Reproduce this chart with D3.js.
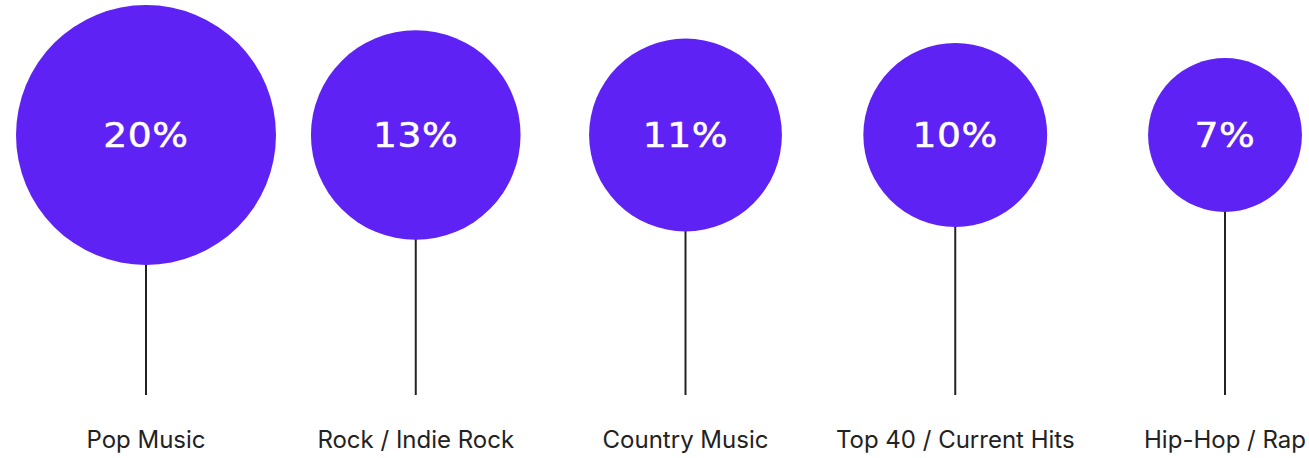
<!DOCTYPE html>
<html>
<head>
<meta charset="utf-8">
<script src="https://cdn.jsdelivr.net/npm/d3@7"></script>
<style>
  html, body { margin: 0; padding: 0; background: #ffffff; }
  svg { display: block; }
</style>
</head>
<body>
<svg id="chart" width="1309" height="458"></svg>
<script>
// Music genre preference shares
const genres = ["Pop Music", "Rock / Indie Rock", "Country Music", "Top 40 / Current Hits", "Hip-Hop / Rap"];
const shares = [20, 13, 11, 10, 7];
const shareLabels = ["20%", "13%", "11%", "10%", "7%"];

const data = genres.map((g, i) => ({ genre: g, share: shares[i], label: shareLabels[i] }));

const svg = d3.select("#chart");

const centerY = 135;
const stemBottom = 395;
const labelBaseline = 448;

const x = d3.scalePoint().domain(genres).range([146, 1225]);
const r = d3.scaleSqrt().domain([0, 20]).range([0, 130]);

const g = svg.selectAll("g.bubble")
  .data(data)
  .join("g")
  .attr("class", "bubble")
  .attr("transform", d => `translate(${x(d.genre)},0)`);

// stems from the bottom of each bubble down to the label
g.append("line")
  .attr("x1", 0).attr("x2", 0)
  .attr("y1", d => centerY + r(d.share) - 1)
  .attr("y2", stemBottom)
  .attr("stroke", "#222222")
  .attr("stroke-width", 2);

g.append("circle")
  .attr("cx", 0)
  .attr("cy", centerY)
  .attr("r", d => r(d.share))
  .attr("fill", "#5e22f5");

// percentage inside each bubble, widened slightly for an extended look
g.append("text")
  .attr("transform", `translate(0,${centerY + 12}) scale(1.14,1)`)
  .attr("text-anchor", "middle")
  .attr("fill", "#ffffff")
  .attr("stroke", "#ffffff")
  .attr("stroke-width", 0.5)
  .style("font-family", "'DejaVu Sans', sans-serif")
  .style("font-size", "33px")
  .style("letter-spacing", "0.5px")
  .text(d => d.label);

g.append("text")
  .attr("x", 0)
  .attr("y", labelBaseline)
  .attr("text-anchor", "middle")
  .attr("fill", "#222222")
  .style("font-family", "Inter, 'Liberation Sans', sans-serif")
  .style("font-size", "24px")
  .text(d => d.genre);
</script>
</body>
</html>
